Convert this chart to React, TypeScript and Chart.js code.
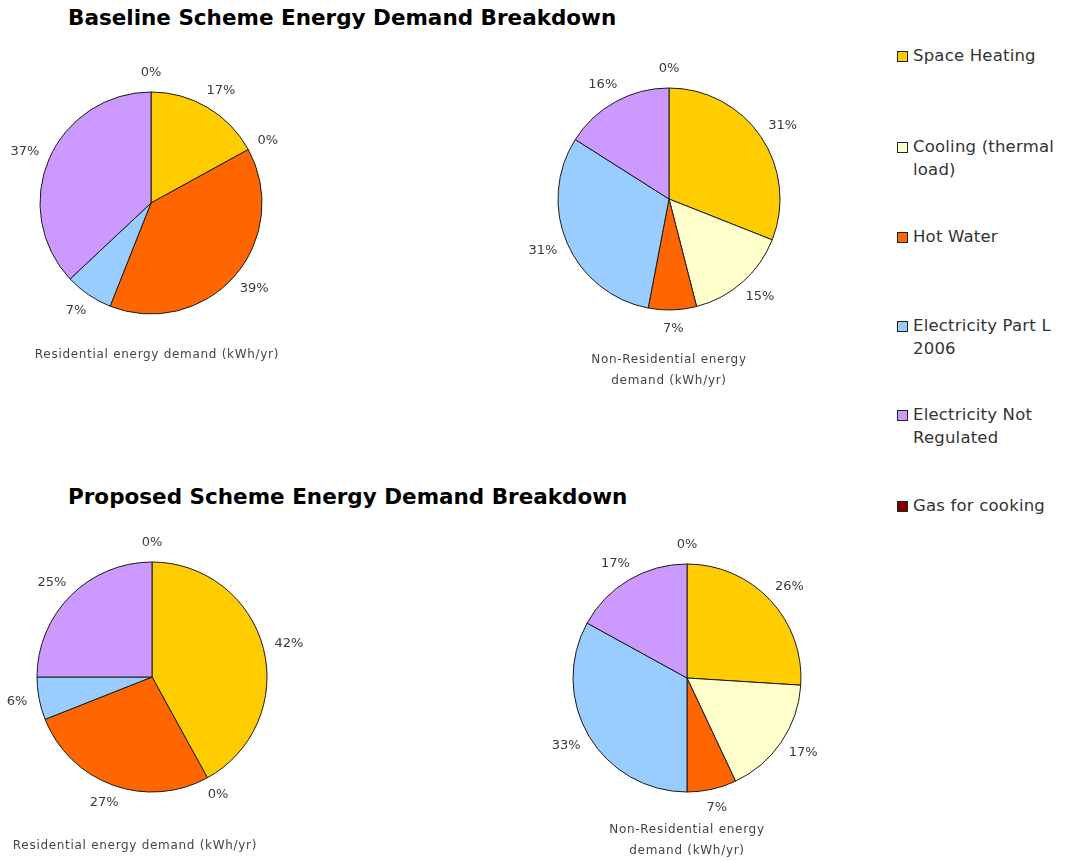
import React, { useEffect, useRef } from "react";
import { Chart, registerables } from "chart.js";

Chart.register(...registerables);

// Energy end-use categories (shared by all four pies)
const categories = [
  "Space Heating",
  "Cooling (thermal load)",
  "Hot Water",
  "Electricity Part L 2006",
  "Electricity Not Regulated",
  "Gas for cooking",
];

const legendLines = [
  ["Space Heating"],
  ["Cooling (thermal", "load)"],
  ["Hot Water"],
  ["Electricity Part L", "2006"],
  ["Electricity Not", "Regulated"],
  ["Gas for cooking"],
];

const sliceColors = ["#FFCC00", "#FFFFCC", "#FF6600", "#99CCFF", "#CC99FF", "#800000"];

// Percent share of annual demand (kWh/yr)
const baselineResidential = [17, 0, 39, 7, 37, 0];
const baselineNonResidential = [31, 15, 7, 31, 16, 0];
const proposedResidential = [42, 0, 27, 6, 25, 0];
const proposedNonResidential = [26, 17, 7, 33, 17, 0];

const sectionTitles = [
  "Baseline Scheme Energy Demand Breakdown",
  "Proposed Scheme Energy Demand Breakdown",
];

const FONT = "'DejaVu Sans', sans-serif";

// Percentage labels placed just outside each slice, pushed away from the centre
const outsideLabels = {
  id: "outsideLabels",
  afterDatasetsDraw(chart: any) {
    const { ctx } = chart;
    const meta = chart.getDatasetMeta(0);
    const data = chart.data.datasets[0].data as number[];
    const total = data.reduce((a, b) => a + b, 0);
    ctx.save();
    ctx.font = `13px ${FONT}`;
    ctx.fillStyle = "#3a3a3a";
    ctx.textAlign = "center";
    ctx.textBaseline = "middle";
    meta.data.forEach((arc: any, i: number) => {
      const { x, y, startAngle, endAngle, outerRadius } = arc.getProps(
        ["x", "y", "startAngle", "endAngle", "outerRadius"],
        true
      );
      const mid = (startAngle + endAngle) / 2;
      const dx = Math.cos(mid);
      const dy = Math.sin(mid);
      const text = Math.round((data[i] / total) * 100) + "%";
      const w = ctx.measureText(text).width;
      const h = 14;
      const r = outerRadius + 12;
      const cx = x + dx * r + dx * (w / 2);
      const cy = y + dy * r + dy * (h / 2);
      ctx.fillText(text, cx, cy);
    });
    ctx.restore();
  },
};

type PieProps = {
  values: number[];
  cx: number;
  cy: number;
  radius: number;
};

const BOX = 350;

function EnergyPie({ values, cx, cy, radius }: PieProps) {
  const ref = useRef<HTMLCanvasElement>(null);
  useEffect(() => {
    if (!ref.current) return;
    const chart = new Chart(ref.current, {
      type: "pie",
      data: {
        labels: categories,
        datasets: [
          {
            data: values,
            backgroundColor: sliceColors,
            borderColor: "#1a1a1a",
            borderWidth: 1,
          },
        ],
      },
      options: {
        responsive: false,
        animation: false,
        events: [],
        radius,
        layout: { padding: 0 },
        plugins: {
          legend: { display: false },
          tooltip: { enabled: false },
          title: { display: false },
        },
      },
      plugins: [outsideLabels],
    });
    return () => chart.destroy();
  }, [values, cx, cy, radius]);
  return (
    <canvas
      ref={ref}
      width={BOX}
      height={BOX}
      style={{ position: "absolute", left: cx - BOX / 2, top: cy - BOX / 2, width: BOX, height: BOX }}
    />
  );
}

const captionStyle: React.CSSProperties = {
  position: "absolute",
  fontFamily: FONT,
  fontSize: 12,
  letterSpacing: 0.7,
  color: "#444",
  textAlign: "center",
  lineHeight: "21px",
  whiteSpace: "nowrap",
};

const titleStyle: React.CSSProperties = {
  position: "absolute",
  left: 68,
  fontFamily: FONT,
  fontWeight: "bold",
  fontSize: 21.5,
  color: "#000",
  whiteSpace: "nowrap",
  lineHeight: "26px",
};

const legendTops = [56, 147, 237, 326, 415, 506];

export default function App() {
  return (
    <div
      style={{
        position: "absolute",
        left: 0,
        top: 0,
        width: 1068,
        height: 861,
        background: "#fff",
        overflow: "hidden",
      }}
    >
      <div style={{ ...titleStyle, top: 5 }}>{sectionTitles[0]}</div>
      <div style={{ ...titleStyle, top: 484 }}>{sectionTitles[1]}</div>

      <EnergyPie values={baselineResidential} cx={151} cy={203} radius={111} />
      <EnergyPie values={baselineNonResidential} cx={669} cy={199} radius={111} />
      <EnergyPie values={proposedResidential} cx={152} cy={677} radius={115} />
      <EnergyPie values={proposedNonResidential} cx={687} cy={678} radius={114} />

      <div style={{ ...captionStyle, left: 157 - 150, width: 300, top: 344 }}>
        Residential energy demand (kWh/yr)
      </div>
      <div style={{ ...captionStyle, left: 669 - 150, width: 300, top: 349 }}>
        Non-Residential energy
        <br />
        demand (kWh/yr)
      </div>
      <div style={{ ...captionStyle, left: 135 - 150, width: 300, top: 835 }}>
        Residential energy demand (kWh/yr)
      </div>
      <div style={{ ...captionStyle, left: 687 - 150, width: 300, top: 819 }}>
        Non-Residential energy
        <br />
        demand (kWh/yr)
      </div>

      {legendLines.map((lines, i) => (
        <div key={categories[i]}>
          <div
            style={{
              position: "absolute",
              left: 897,
              top: legendTops[i] - 5,
              width: 9,
              height: 9,
              background: sliceColors[i],
              border: "1px solid #222",
            }}
          />
          <div
            style={{
              position: "absolute",
              left: 913,
              top: legendTops[i] - 12,
              fontFamily: FONT,
              fontSize: 16.5,
              letterSpacing: 0.2,
              lineHeight: "23px",
              color: "#333",
              whiteSpace: "nowrap",
            }}
          >
            {lines.map((l, j) => (
              <div key={j}>{l}</div>
            ))}
          </div>
        </div>
      ))}
    </div>
  );
}
